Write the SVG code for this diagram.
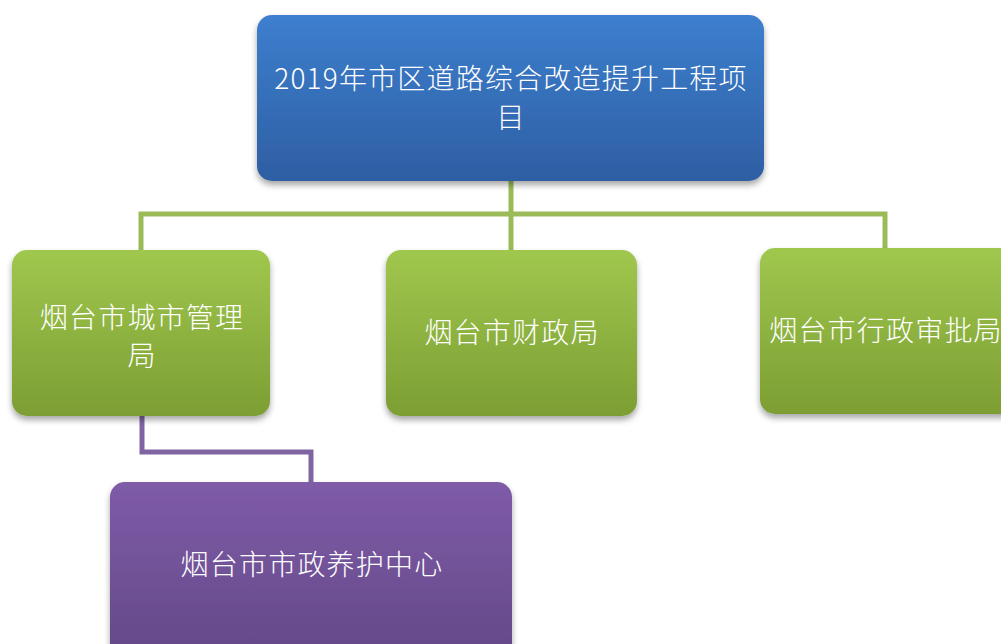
<svg xmlns="http://www.w3.org/2000/svg" width="1001" height="644" viewBox="0 0 1001 644">
<style>
.t{font-family:"Noto Sans CJK SC","Liberation Sans",sans-serif;fill:#ffffff;font-size:28px;text-anchor:middle;font-weight:300;letter-spacing:1.2px}
.g{fill:none;stroke:#9BBB59;stroke-width:5}
.p{fill:none;stroke:#8064A2;stroke-width:5}
</style>
<defs>
<linearGradient id="gb" x1="0" y1="0" x2="0" y2="1"><stop offset="0" stop-color="#3D7FCE"/><stop offset="1" stop-color="#2E5EA3"/></linearGradient>
<linearGradient id="gg" x1="0" y1="0" x2="0" y2="1"><stop offset="0" stop-color="#A0C74E"/><stop offset="1" stop-color="#7C9E33"/></linearGradient>
<linearGradient id="gp" x1="0" y1="0" x2="0" y2="1"><stop offset="0" stop-color="#7F5BA8"/><stop offset="1" stop-color="#634887"/></linearGradient>
<filter id="sh" x="-10%" y="-10%" width="120%" height="130%"><feDropShadow dx="0" dy="4" stdDeviation="3" flood-color="#000" flood-opacity="0.35"/></filter>
</defs>
<g id="connectors">
<path class="g" d="M511 181 V214 M141 250 V214 H885 V248 M511 214 V250"/>
<path class="p" d="M142 416 V452 H311 V482"/>
</g>
<g id="n0"><rect x="257" y="15" width="507" height="166" rx="15" fill="url(#gb)" filter="url(#sh)"/>
<text class="t" x="511" y="89">2019年市区道路综合改造提升工程项</text><text class="t" x="511" y="128">目</text></g>
<g id="n1"><rect x="12" y="250" width="258" height="166" rx="15" fill="url(#gg)" filter="url(#sh)"/>
<text class="t" x="142" y="328">烟台市城市管理</text><text class="t" x="142" y="366">局</text></g>
<g id="n2"><rect x="386" y="250" width="251" height="166" rx="15" fill="url(#gg)" filter="url(#sh)"/>
<text class="t" x="512" y="343">烟台市财政局</text></g>
<g id="n3"><rect x="760" y="248" width="260" height="166" rx="15" fill="url(#gg)" filter="url(#sh)"/>
<text class="t" x="886" y="341">烟台市行政审批局</text></g>
<g id="n4"><rect x="110" y="482" width="402" height="180" rx="15" fill="url(#gp)" filter="url(#sh)"/>
<text class="t" x="312" y="575">烟台市市政养护中心</text></g>
</svg>
